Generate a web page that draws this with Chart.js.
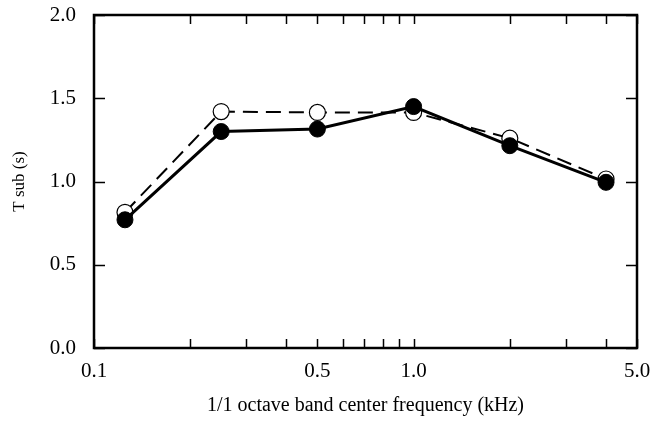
<!DOCTYPE html>
<html><head><meta charset="utf-8">
<script src="https://cdn.jsdelivr.net/npm/chart.js@4/dist/chart.umd.min.js"></script>
<style>html,body{margin:0;padding:0;background:#fff}</style>
</head><body>
<canvas id="c" width="658" height="421"></canvas>
<script>
const frequencies = [0.125, 0.25, 0.5, 1.0, 2.0, 4.0];
const seriesOpen = [0.815, 1.42, 1.415, 1.415, 1.26, 1.015];
const seriesFilled = [0.77, 1.30, 1.315, 1.45, 1.215, 0.995];
const xLabelTicks = [0.1, 0.5, 1.0, 5.0];
const xMinorTicks = [0.2, 0.3, 0.4, 0.6, 0.7, 0.8, 0.9, 2, 3, 4];
const yTickValues = [0, 0.5, 1.0, 1.5, 2.0];
const xTitle = '1/1 octave band center frequency (kHz)';
const yTitle = 'T sub (s)';

const FONT = "'Liberation Serif', 'Times New Roman', serif";

const framePlugin = {
  id: 'frame',
  afterDraw(chart) {
    const {ctx, chartArea: a, scales: {x, y}} = chart;
    ctx.save();
    ctx.strokeStyle = '#000';
    ctx.lineCap = 'butt';
    ctx.lineWidth = 1.5;
    const tl = 9;
    const xt = xLabelTicks.concat(xMinorTicks);
    xt.forEach(v => {
      const px = Math.round(x.getPixelForValue(v)) + 0.5;
      ctx.beginPath();
      ctx.moveTo(px, a.bottom); ctx.lineTo(px, a.bottom - tl);
      ctx.moveTo(px, a.top); ctx.lineTo(px, a.top + tl);
      ctx.stroke();
    });
    yTickValues.forEach(v => {
      const py = Math.round(y.getPixelForValue(v)) + 0.5;
      ctx.beginPath();
      ctx.moveTo(a.left, py); ctx.lineTo(a.left + tl + 2, py);
      ctx.moveTo(a.right, py); ctx.lineTo(a.right - tl - 2, py);
      ctx.stroke();
    });
    ctx.lineWidth = 2.5;
    ctx.strokeRect(a.left, a.top, a.right - a.left, a.bottom - a.top);
    ctx.restore();
  }
};

new Chart(document.getElementById('c'), {
  type: 'scatter',
  data: {
    datasets: [
      {
        label: 'filled',
        data: frequencies.map((f, i) => ({x: f, y: seriesFilled[i]})),
        showLine: true,
        borderColor: '#000',
        borderWidth: 3,
        pointRadius: 8,
        pointBackgroundColor: '#000',
        pointBorderColor: '#000',
        pointBorderWidth: 1
      },
      {
        label: 'open',
        data: frequencies.map((f, i) => ({x: f, y: seriesOpen[i]})),
        showLine: true,
        borderColor: '#000',
        borderWidth: 2,
        borderDash: [15, 8],
        pointRadius: 8,
        pointBackgroundColor: '#fff',
        pointBorderColor: '#000',
        pointBorderWidth: 1.2
      }
    ]
  },
  options: {
    responsive: false,
    animation: false,
    clip: false,
    layout: {padding: {left: 0, right: 21, top: 15, bottom: 0}},
    plugins: {legend: {display: false}, tooltip: {enabled: false}},
    scales: {
      x: {
        type: 'logarithmic',
        min: 0.1, max: 5.0,
        afterBuildTicks: s => { s.ticks = xLabelTicks.map(v => ({value: v})); },
        afterFit: s => { s.height = 73; s.paddingLeft = 0; s.paddingRight = 0; },
        grid: {display: false},
        border: {display: false},
        ticks: {
          autoSkip: false, maxRotation: 0,
          padding: 3,
          color: '#000',
          font: {family: FONT, size: 21},
          callback: v => Number(v).toFixed(1)
        },
        title: {
          display: true, text: xTitle, color: '#000',
          font: {family: FONT, size: 20},
          padding: {top: 0, bottom: 3}
        }
      },
      y: {
        min: 0, max: 2.0,
        afterBuildTicks: s => { s.ticks = yTickValues.map(v => ({value: v})); },
        afterFit: s => { s.width = 94; s.paddingTop = 0; s.paddingBottom = 0; },
        grid: {display: false},
        border: {display: false},
        ticks: {
          padding: 10,
          color: '#000',
          font: {family: FONT, size: 21},
          callback: v => Number(v).toFixed(1)
        },
        title: {
          display: true, text: yTitle, color: '#000',
          font: {family: FONT, size: 17},
          padding: {top: 9, bottom: 0}
        }
      }
    }
  },
  plugins: [framePlugin]
});
</script>
</body></html>
